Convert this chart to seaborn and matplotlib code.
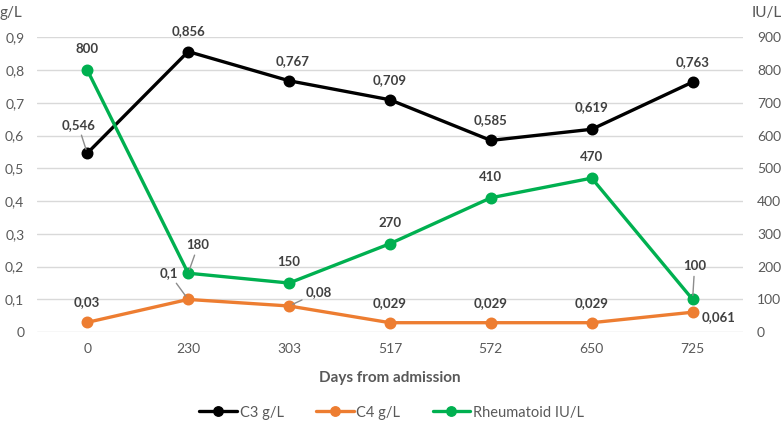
import matplotlib
matplotlib.use("Agg")
import matplotlib.pyplot as plt
from matplotlib.lines import Line2D
import seaborn as sns
import pandas as pd

days = ["0", "230", "303", "517", "572", "650", "725"]
c3 = [0.546, 0.856, 0.767, 0.709, 0.585, 0.619, 0.763]
c4 = [0.03, 0.1, 0.08, 0.029, 0.029, 0.029, 0.061]
rheum = [800, 180, 150, 270, 410, 470, 100]

c3_lab = ["0,546", "0,856", "0,767", "0,709", "0,585", "0,619", "0,763"]
c4_lab = ["0,03", "0,1", "0,08", "0,029", "0,029", "0,029", "0,061"]
rh_lab = [str(v) for v in rheum]

BLACK = "#000000"
ORANGE = "#ED7D31"
GREEN = "#00B050"
GREY = "#595959"
LABEL = "#404040"

sns.set_style("white")
plt.rcParams["font.family"] = ["Lato", "DejaVu Sans"]

df = pd.DataFrame({"day": days, "c3": c3, "c4": c4, "rheum": rheum})

fig = plt.figure(figsize=(7.83, 4.32), dpi=100)
ax = fig.add_axes([0.047, 0.231, 0.902, 0.683])
ax2 = ax.twinx()

kw = dict(markers="o", linestyles="-", markersize=6.8, linewidth=2.4)
sns.pointplot(data=df, x="day", y="c3", color=BLACK, ax=ax, **kw)
sns.pointplot(data=df, x="day", y="c4", color=ORANGE, ax=ax, **kw)
sns.pointplot(data=df, x="day", y="rheum", color=GREEN, ax=ax2, **kw)

ax.set_ylim(0, 0.9)
ax2.set_ylim(0, 900)
ax.set_xlim(-0.5, 6.5)
ax.set_yticks([i / 10 for i in range(10)])
ax.set_yticklabels(["0"] + ["0,%d" % i for i in range(1, 10)])
ax2.set_yticks(range(0, 1000, 100))
ax.yaxis.grid(True, color="#D9D9D9", linewidth=1)
ax.set_axisbelow(True)
for a in (ax, ax2):
    for s in a.spines.values():
        s.set_visible(False)
    a.tick_params(length=0, labelsize=10, labelcolor=GREY)
ax.tick_params(axis="y", pad=9)
ax2.tick_params(axis="y", pad=10)
ax.tick_params(axis="x", pad=8)
ax.set_ylabel("")
ax2.set_ylabel("")
ax.set_xlabel("Days from admission", fontsize=11, fontweight="bold", color=GREY, labelpad=11)

fig.text(0.0, 0.97, "g/L", fontsize=11, color=GREY, va="center", ha="left")
fig.text(0.998, 0.97, "IU/L", fontsize=11, color=GREY, va="center", ha="right")

# label offsets (dx, dy) in pixels, and whether a leader line is drawn
c3_off = [(-9, 28, True), (0, 20, False), (4, 20, False), (0, 20, False),
          (0, 20, False), (0, 22, False), (0, 20, False)]
c4_off = [(0, 20, False), (-19, 26, True), (30, 14, True), (0, 20, False),
          (0, 20, False), (0, 20, False), (26, -5, False)]
rh_off = [(0, 21, False), (10, 28, True), (0, 21, False), (0, 21, False),
          (0, 21, False), (0, 21, False), (2, 33, True)]


def label_series(a, vals, labs, offs):
    for i, (v, t, (dx, dy, lead)) in enumerate(zip(vals, labs, offs)):
        ap = None
        if lead:
            ap = dict(arrowstyle="-", color="#8C8C8C", lw=1.0, shrinkA=0.5, shrinkB=3)
        a.annotate(t, xy=(i, v), xytext=(dx, dy), textcoords="offset pixels",
                   ha="center", va="center", fontsize=9.5, fontweight="bold",
                   color=LABEL, arrowprops=ap, zorder=10)


label_series(ax, c3, c3_lab, c3_off)
label_series(ax, c4, c4_lab, c4_off)
label_series(ax2, rheum, rh_lab, rh_off)

handles = [Line2D([], [], color=c, marker="o", linewidth=2.4, markersize=6.8)
           for c in (BLACK, ORANGE, GREEN)]
leg = fig.legend(handles, ["C3 g/L", "C4 g/L", "Rheumatoid IU/L"], loc="center",
                 bbox_to_anchor=(0.5, 0.045), ncol=3, frameon=False, fontsize=10.5,
                 handlelength=2.6, columnspacing=2.2, handletextpad=0.2)
for t in leg.get_texts():
    t.set_color(GREY)

fig.savefig("out.png", dpi=100)
